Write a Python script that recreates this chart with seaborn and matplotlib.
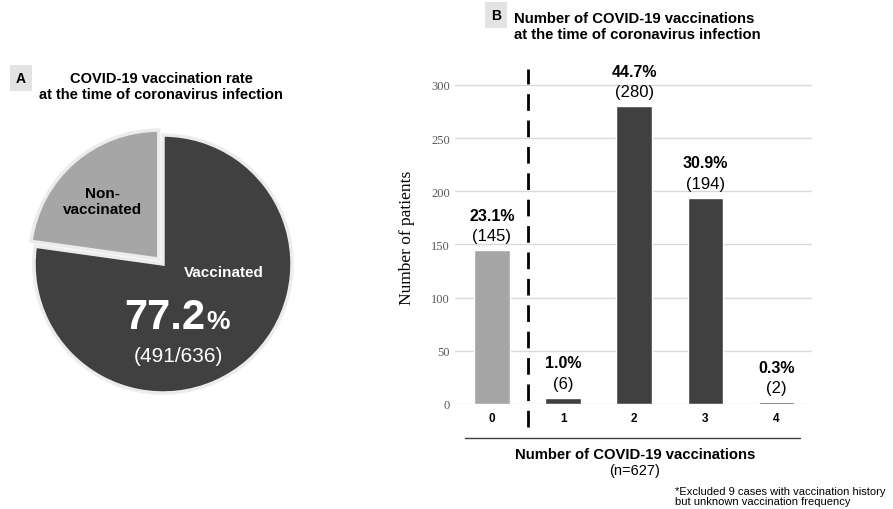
import matplotlib
matplotlib.use("Agg")
import matplotlib.pyplot as plt
import matplotlib.transforms as mtransforms
from matplotlib.lines import Line2D
import pandas as pd
import seaborn as sns

# Panel A data
pie_labels = ["Non-vaccinated", "Vaccinated"]
pie_counts = [145, 491]
pie_colors = ["#a6a6a6", "#404040"]

# Panel B data
doses = ["0", "1", "2", "3", "4"]
patients = [145, 6, 280, 194, 2]
percents = ["23.1%", "1.0%", "44.7%", "30.9%", "0.3%"]
bar_colors = ["#a6a6a6", "#404040", "#404040", "#404040", "#404040"]

sns.set_theme(style="white")
plt.rcParams["font.family"] = ["Liberation Sans", "DejaVu Sans"]
plt.rcParams["text.color"] = "black"
plt.rcParams["axes.labelcolor"] = "black"
plt.rcParams["xtick.color"] = "black"

W, H = 893, 510
fig = plt.figure(figsize=(W / 100, H / 100), dpi=100)


def fx(px):
    return px / W


def fy(py):
    return 1 - py / H


# ---- Panel A: pie ----
cx, cy, r = 163, 265, 129
lim = 1.2
axp = fig.add_axes([fx(cx - lim * r), fy(cy + lim * r), 2 * lim * r / W, 2 * lim * r / H])
axp.pie(pie_counts, colors=pie_colors, startangle=90, counterclock=True,
        explode=[0.05, 0], wedgeprops=dict(edgecolor="#ececec", linewidth=2.5))
axp.set_xlim(-lim, lim)
axp.set_ylim(-lim, lim)
axp.set_aspect("auto")
axp.axis("off")


def pd_xy(px, py):
    return (px - cx) / r, (cy - py) / r


axp.text(*pd_xy(102, 202), "Non-\nvaccinated", ha="center", va="center",
         fontsize=11, fontweight="bold", color="black", linespacing=1.15)
axp.text(*pd_xy(224, 273), "Vaccinated", ha="center", va="center",
         fontsize=11, fontweight="bold", color="white")
pct = 100 * pie_counts[1] / sum(pie_counts)
axp.text(*pd_xy(205, 318), f"{pct:.1f}", ha="right", va="center",
         fontsize=30, fontweight="bold", color="white")
axp.text(*pd_xy(206, 322), "%", ha="left", va="center",
         fontsize=19, fontweight="bold", color="white")
axp.text(*pd_xy(178, 357), f"({pie_counts[1]}/{sum(pie_counts)})", ha="center",
         va="center", fontsize=15, color="white")

fig.text(fx(161), fy(87), "COVID-19 vaccination rate\nat the time of coronavirus infection",
         ha="center", va="center", fontsize=10.5, fontweight="bold", linespacing=1.2)
fig.text(fx(21), fy(79), "A", ha="center", va="center", fontsize=10, fontweight="bold",
         bbox=dict(boxstyle="square,pad=0.45", facecolor="#e3e3e3", edgecolor="none"))

# ---- Panel B: bars ----
ax = fig.add_axes([fx(455), fy(405), (812 - 455) / W, (405 - 70) / H])
df = pd.DataFrame({"doses": doses, "patients": patients})
sns.barplot(data=df, x="doses", y="patients", hue="doses", palette=bar_colors,
            legend=False, width=0.5, ax=ax, saturation=1)
ax.set_xlim(-0.52, 4.5)
ax.set_ylim(0, 315)
ax.set_yticks([0, 50, 100, 150, 200, 250, 300])
ax.yaxis.grid(True, color="#d9d9d9", linewidth=1)
ax.set_axisbelow(True)
for s in ax.spines.values():
    s.set_visible(False)
ax.tick_params(axis="both", length=0)
ax.tick_params(axis="x", pad=6)
for lbl in ax.get_xticklabels():
    lbl.set_fontweight("bold")
    lbl.set_fontsize(8.5)
for lbl in ax.get_yticklabels():
    lbl.set_family("Liberation Serif")
    lbl.set_fontsize(9)
    lbl.set_color("#595959")
ax.set_xlabel("")
ax.set_ylabel("Number of patients", family="Liberation Serif", fontsize=12.5, labelpad=12)

for i, (n, p) in enumerate(zip(patients, percents)):
    ax.annotate(f"({n})", (i, n), xytext=(0, 10.5), textcoords="offset points",
                ha="center", va="center", fontsize=12)
    ax.annotate(p, (i, n), xytext=(0, 25), textcoords="offset points",
                ha="center", va="center", fontsize=11.5, fontweight="bold")

trans = mtransforms.blended_transform_factory(ax.transData, ax.transAxes)
ax.plot([0.5, 0.5], [-0.07, 1.0], transform=trans, color="black", linewidth=2,
        linestyle=(0, (6, 3.5)), clip_on=False)

fig.add_artist(Line2D([fx(465), fx(800)], [fy(439), fy(439)], color="#404040", linewidth=1))
fig.text(fx(635), fy(455), "Number of COVID-19 vaccinations", ha="center", va="center",
         fontsize=10.7, fontweight="bold")
fig.text(fx(635), fy(471), "(n=627)", ha="center", va="center", fontsize=10.5)
fig.text(fx(675), fy(497), "*Excluded 9 cases with vaccination history\nbut unknown vaccination frequency",
         ha="left", va="center", fontsize=8, linespacing=1.1)

fig.text(fx(514), fy(27), "Number of COVID-19 vaccinations\nat the time of coronavirus infection",
         ha="left", va="center", fontsize=10.7, fontweight="bold", linespacing=1.2)
fig.text(fx(496), fy(16), "B", ha="center", va="center", fontsize=10, fontweight="bold",
         bbox=dict(boxstyle="square,pad=0.45", facecolor="#e3e3e3", edgecolor="none"))

fig.savefig("out.png", dpi=100)
